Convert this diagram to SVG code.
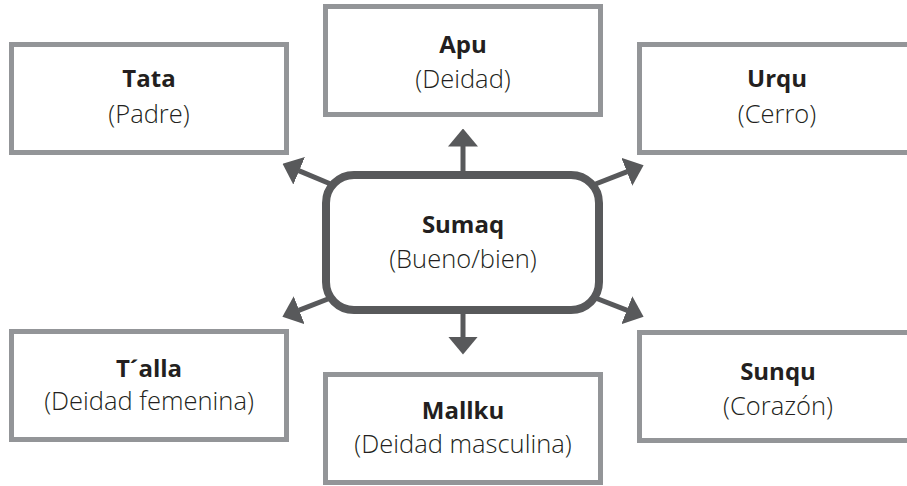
<svg xmlns="http://www.w3.org/2000/svg" width="907" height="486" viewBox="0 0 907 486">
<style>
.box{fill:#fff;stroke:#939598;stroke-width:5}
.center{fill:#fff;stroke:#58595b;stroke-width:8}
.conn{stroke:#58595b;stroke-width:5;fill:none}
.t{font-family:"Open Sans","Noto Sans",sans-serif;font-size:24px;fill:#231f20;text-anchor:middle;font-weight:700}
.s{font-family:"Open Sans","Noto Sans",sans-serif;font-size:25.5px;fill:#231f20;text-anchor:middle;font-weight:300}
</style>
<defs>
<marker id="ah" viewBox="0 0 18 30" refX="0.5" refY="15" markerWidth="18" markerHeight="30" markerUnits="userSpaceOnUse" orient="auto">
<path d="M0,0 L18,15 L0,30 Z" fill="#58595b"/>
</marker>
</defs>
<g id="connectors">
<line class="conn" x1="463" y1="178" x2="463" y2="146" marker-end="url(#ah)"/>
<line class="conn" x1="463" y1="308" x2="463" y2="337" marker-end="url(#ah)"/>
<line class="conn" x1="333" y1="185" x2="298.7" y2="170.6" marker-end="url(#ah)"/>
<line class="conn" x1="593" y1="185" x2="627.3" y2="171.6" marker-end="url(#ah)"/>
<line class="conn" x1="333" y1="297" x2="298.7" y2="310.4" marker-end="url(#ah)"/>
<line class="conn" x1="593" y1="297" x2="627.3" y2="310.4" marker-end="url(#ah)"/>
</g>
<g id="sumaq">
<rect class="center" x="326" y="175" width="273" height="135" rx="28"/>
<text class="t" x="463" y="233">Sumaq</text>
<text class="s" x="463" y="268">(Bueno/bien)</text>
</g>
<g id="tata">
<rect class="box" x="11.5" y="44.5" width="275" height="108"/>
<text class="t" x="149" y="87">Tata</text>
<text class="s" x="149" y="123">(Padre)</text>
</g>
<g id="apu">
<rect class="box" x="325.5" y="6.5" width="275" height="108"/>
<text class="t" x="463" y="53">Apu</text>
<text class="s" x="463" y="88">(Deidad)</text>
</g>
<g id="urqu">
<rect class="box" x="639.5" y="44.5" width="285" height="108"/>
<text class="t" x="777" y="87">Urqu</text>
<text class="s" x="777" y="123">(Cerro)</text>
</g>
<g id="talla">
<rect class="box" x="11.5" y="331.5" width="275" height="108"/>
<text class="t" x="149" y="377">T´alla</text>
<text class="s" x="149" y="410">(Deidad femenina)</text>
</g>
<g id="mallku">
<rect class="box" x="325.5" y="374.5" width="275" height="108"/>
<text class="t" x="463" y="419">Mallku</text>
<text class="s" x="463" y="453">(Deidad masculina)</text>
</g>
<g id="sunqu">
<rect class="box" x="639.5" y="332.5" width="285" height="108"/>
<text class="t" x="778" y="380">Sunqu</text>
<text class="s" x="778" y="415">(Corazón)</text>
</g>
</svg>
